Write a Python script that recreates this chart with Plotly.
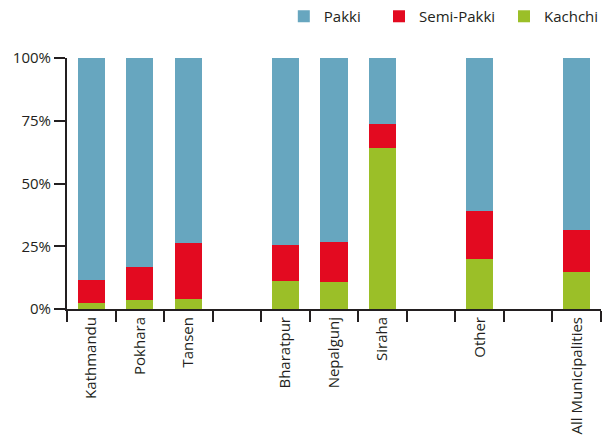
import plotly.graph_objects as go

categories = ["Kathmandu", "Pokhara", "Tansen", " ", "Bharatpur", "Nepalgunj",
              "Siraha", "  ", "Other", "   ", "All Municipalities"]
kachchi = [2.5, 3.6, 4.0, None, 11.2, 10.8, 64.0, None, 20.0, None, 14.7]
semi_pakki = [9.0, 13.1, 22.3, None, 14.3, 16.0, 9.8, None, 19.0, None, 16.8]
pakki = [88.5, 83.3, 73.7, None, 74.5, 73.2, 26.2, None, 61.0, None, 68.5]
y_ticks = [0, 25, 50, 75, 100]
y_tick_labels = ["0%", "25%", "50%", "75%", "100%"]

FONT = "Open Sans"
DARK = "#231F20"
FS = 15

fig = go.Figure()
fig.add_trace(go.Bar(x=categories, y=kachchi, name="Kachchi", marker_color="#9BBF28",
                     marker_line_width=0, legend="legend3"))
fig.add_trace(go.Bar(x=categories, y=semi_pakki, name="Semi-Pakki", marker_color="#E30A20",
                     marker_line_width=0, legend="legend2"))
fig.add_trace(go.Bar(x=categories, y=pakki, name="Pakki", marker_color="#67A6BF",
                     marker_line_width=0, legend="legend"))

leg_common = dict(orientation="h", xanchor="left", y=1.231, yanchor="top",
                  font=dict(family=FONT, size=FS, color=DARK), bgcolor="rgba(0,0,0,0)")

fig.update_layout(
    barmode="stack",
    bargap=0.44,
    width=608, height=441,
    margin=dict(l=67, r=7, t=58, b=132, autoexpand=False),
    paper_bgcolor="white", plot_bgcolor="white",
    font=dict(family=FONT, size=FS, color=DARK),
    showlegend=True,
    legend=dict(x=0.406, **leg_common),
    legend2=dict(x=0.5843, **leg_common),
    legend3=dict(x=0.8184, **leg_common),
    xaxis=dict(type="category", categoryorder="array", categoryarray=categories,
               tickangle=-90, ticks="outside", tickson="boundaries",
               ticklen=11, tickwidth=2, tickcolor=DARK,
               showline=True, linecolor=DARK, linewidth=2,
               showgrid=False, zeroline=False,
               tickfont=dict(family=FONT, size=FS, color=DARK)),
    yaxis=dict(range=[0, 100], tickvals=y_ticks, ticktext=y_tick_labels,
               ticks="outside", ticklen=11, tickwidth=2, tickcolor=DARK,
               showline=True, linecolor=DARK, linewidth=2,
               showgrid=False, zeroline=False,
               tickfont=dict(family=FONT, size=FS, color=DARK)),
)

fig.write_html("out.html", config={"displayModeBar": False},
               post_script="document.body.style.margin='0px';")
